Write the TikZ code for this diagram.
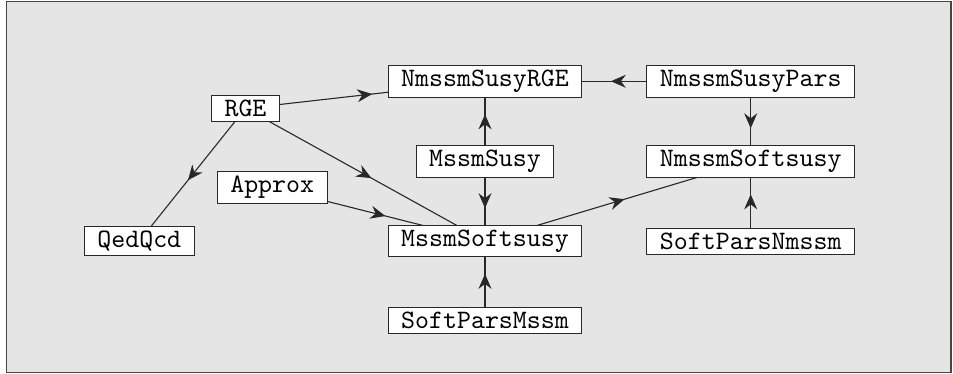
\documentclass[tikz,border=0pt]{standalone}
\usepackage{graphicx}
\usetikzlibrary{arrows.meta,decorations.markings}
\definecolor{bggray}{RGB}{229,229,229}
\definecolor{framec}{RGB}{70,70,70}
\definecolor{linec}{RGB}{40,40,40}
\pgfdeclarelayer{back}
\pgfdeclarelayer{edges}
\pgfsetlayers{back,edges,main}
\newcommand{\clsname}[1]{\scalebox{2.66}{\fontsize{10}{12}\selectfont\ttfamily #1}}
\begin{document}
\begin{tikzpicture}[x=1pt,y=-1pt,
  cls/.style={draw=linec,fill=white,line width=1pt,inner xsep=13pt,inner ysep=4.5pt,
    anchor=base},
  dep/.style={draw=linec,line width=1.1pt,postaction={decorate},
    decoration={markings,mark=at position 0.5 with {\pgftransformxshift{7pt}\arrow[fill=black!90]{Stealth[length=15pt,width=13pt,inset=5pt]}}}}]
\useasboundingbox (0,0) rectangle (953,374);
\begin{pgfonlayer}{back}
\draw[fill=bggray,draw=framec,line width=1.3pt] (6.5,1.5) rectangle (951,372.5);
\end{pgfonlayer}
\node[cls] (nsrge) at (485,86.5) {\clsname{NmssmSusyRGE}};
\node[cls] (nspars) at (750.7,86.5) {\clsname{NmssmSusyPars}};
\node[cls] (rge) at (245.5,116.5) {\clsname{RGE}};
\node[cls] (msusy) at (485,166.6) {\clsname{MssmSusy}};
\node[cls] (nsoft) at (750.7,166.6) {\clsname{NmssmSoftsusy}};
\node[cls] (approx) at (272.2,192.9) {\clsname{Approx}};
\node[cls] (qed) at (139.3,247.5) {\clsname{QedQcd}};
\node[cls] (msoft) at (485,246.3) {\clsname{MssmSoftsusy}};
\node[cls] (spn) at (750.7,249.5) {\clsname{SoftParsNmssm}};
\node[cls] (spm) at (485,328.8) {\clsname{SoftParsMssm}};
\begin{pgfonlayer}{edges}
\draw[dep] (rge.center) -- (nsrge.center);
\draw[dep] (rge.center) -- (qed.center);
\draw[dep] (rge.center) -- (msoft.center);
\draw[dep] (msusy.center) -- (nsrge.center);
\draw[dep] (msusy.center) -- (msoft.center);
\draw[dep] (approx.center) -- (msoft.center);
\draw[dep] (spm.center) -- (msoft.center);
\draw[dep] (msoft.center) -- (nsoft.center);
\draw[dep] (nspars.center) -- (nsrge.center);
\draw[dep] (nspars.center) -- (nsoft.center);
\draw[dep] (spn.center) -- (nsoft.center);
\end{pgfonlayer}
\end{tikzpicture}
\end{document}
